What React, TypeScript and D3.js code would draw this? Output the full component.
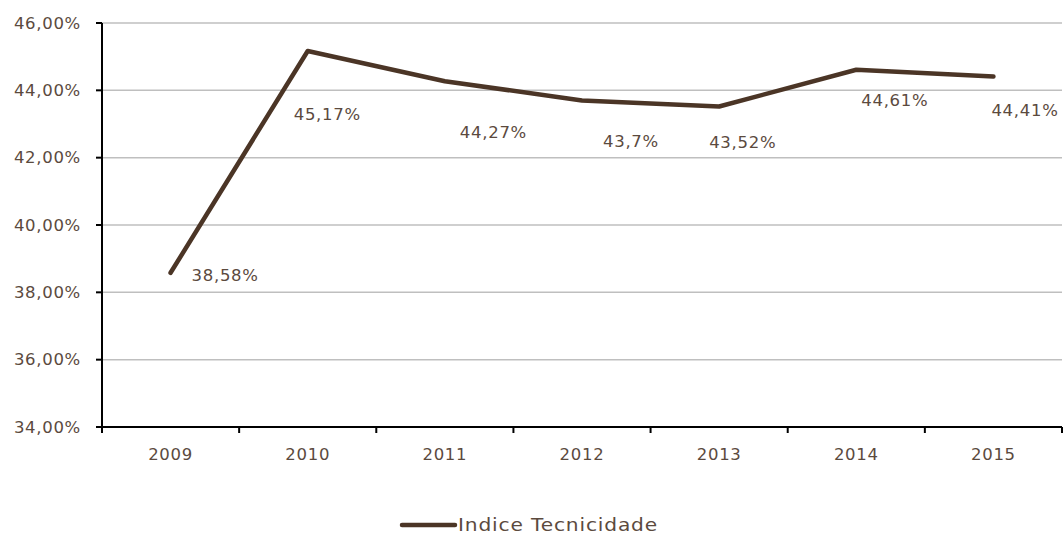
import React from "react";
import * as d3 from "d3";

const categories = ["2009", "2010", "2011", "2012", "2013", "2014", "2015"];
const values = [38.58, 45.17, 44.27, 43.7, 43.52, 44.61, 44.41];
const labels = ["38,58%", "45,17%", "44,27%", "43,7%", "43,52%", "44,61%", "44,41%"];
const yTicks = [34, 36, 38, 40, 42, 44, 46];
const yTickLabels = ["34,00%", "36,00%", "38,00%", "40,00%", "42,00%", "44,00%", "46,00%"];
const seriesName = "Indice Tecnicidade";
// label placement offsets (dx from point to label left, dy to label center)
const labelDx = [21, -14, 15, 21, -10, 5, -2];
const labelDy = [2, 63, 51, 41, 36, 30, 34];

const W = 1064, H = 535;
const left = 102, right = 1062, top = 23, bottom = 427;
const lineColor = "#4b3526";
const textColor = "#5b4a3e";
const font = "'DejaVu Sans', sans-serif";
const fs = 16.5;
const ls = 0.7;

export default function App() {
  const x = d3.scaleBand().domain(categories).range([left, right]).padding(0);
  const y = d3.scaleLinear().domain([34, 46]).range([bottom, top]);
  const line = d3.line<number>().x((_, i) => x(categories[i])! + x.bandwidth() / 2).y(d => y(d));
  const tickXs = categories.map(c => x(c)!).concat([right]);
  return (
    <svg width={W} height={H} style={{ position: "absolute", left: 0, top: 0 }} fontFamily={font} letterSpacing={ls}>
      {yTicks.slice(1).map(t => (
        <line key={t} x1={left} x2={right} y1={y(t)} y2={y(t)} stroke="#bfbfbf" strokeWidth={1.5} />
      ))}
      <line x1={left} x2={left} y1={top} y2={bottom} stroke="#000" strokeWidth={2} />
      <line x1={left - 5} x2={right} y1={bottom} y2={bottom} stroke="#000" strokeWidth={2} />
      {yTicks.map((t, i) => (
        <g key={t}>
          <line x1={left - 6} x2={left} y1={y(t)} y2={y(t)} stroke="#000" strokeWidth={2} />
          <text x={81} y={y(t)} dy="0.35em" textAnchor="end" fontSize={fs} fill={textColor}>{yTickLabels[i]}</text>
        </g>
      ))}
      {tickXs.map((tx, i) => (
        <line key={i} x1={tx} x2={tx} y1={bottom} y2={bottom + 6} stroke="#000" strokeWidth={2} />
      ))}
      {categories.map(c => (
        <text key={c} x={x(c)! + x.bandwidth() / 2} y={454} dy="0.35em" textAnchor="middle" fontSize={fs} fill={textColor}>{c}</text>
      ))}
      <path d={line(values)!} fill="none" stroke={lineColor} strokeWidth={4.5} strokeLinecap="round" strokeLinejoin="round" />
      {values.map((v, i) => (
        <text key={i} x={x(categories[i])! + x.bandwidth() / 2 + labelDx[i]} y={y(v) + labelDy[i]} dy="0.35em" fontSize={fs} fill={textColor}>{labels[i]}</text>
      ))}
      <line x1={402} x2={455} y1={525} y2={525} stroke={lineColor} strokeWidth={4.5} strokeLinecap="round" />
      <text x={458} y={525} dy="0.35em" fontSize={17} fill={textColor} textLength={200} lengthAdjust="spacingAndGlyphs">{seriesName}</text>
    </svg>
  );
}
